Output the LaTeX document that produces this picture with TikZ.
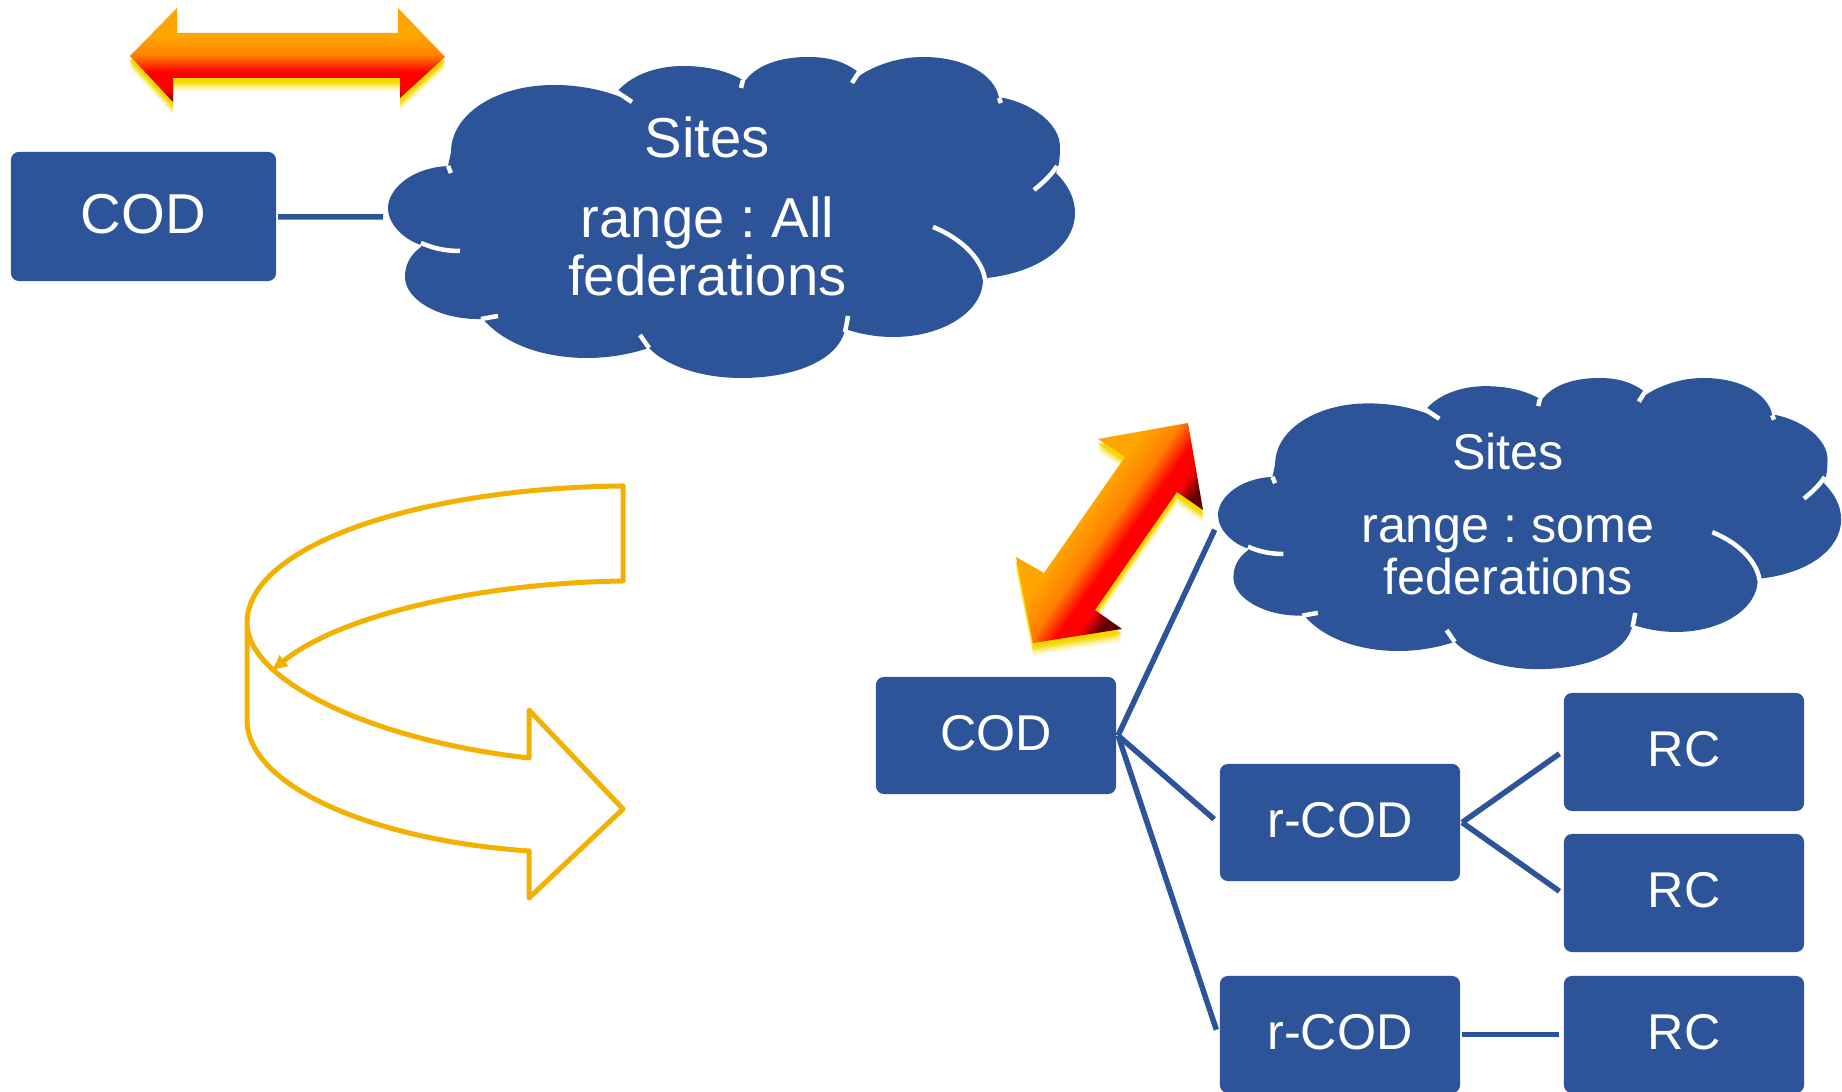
\documentclass[tikz,border=0pt]{standalone}
\usepackage{fontspec}
\setmainfont{Liberation Sans}
\usetikzlibrary{arrows.meta}
\definecolor{codblue}{HTML}{2D5398}
\definecolor{curvegold}{HTML}{F2B000}
\definecolor{glowyellow}{HTML}{F4D800}
\definecolor{flamedark}{HTML}{600000}
\definecolor{flamered}{HTML}{FF0000}
\definecolor{flamemid}{HTML}{FF8000}
\definecolor{flametop}{HTML}{FFA500}
\pgfdeclareverticalshading{flameflat}{100bp}{color(0bp)=(flamedark); color(25bp)=(flamedark); color(31bp)=(flamered); color(41bp)=(flamered); color(50bp)=(flamemid); color(60bp)=(flametop); color(100bp)=(flametop)}
\pgfdeclareverticalshading{flametilt}{100bp}{color(0bp)=(flamedark); color(38bp)=(flamedark); color(42bp)=(flamered); color(46bp)=(flamered); color(51bp)=(flamemid); color(58bp)=(flametop); color(100bp)=(flametop)}
\tikzset{
  codbox/.style={rectangle, fill=codblue, text=white, rounded corners=0.08cm, inner sep=0pt, outer sep=0.02cm, text depth=0.06cm, font=\fontsize{14.3}{16}\selectfont},
  cloudtext/.style={anchor=base, text=white, inner sep=0pt},
  linkline/.style={draw=codblue, line width=0.055cm, shorten >=0.03cm},
  cloudfill/.style={fill=codblue},
  cloudtick/.style={draw=white, line width=0.045cm},
  curveline/.style={draw=curvegold, line width=0.05cm, line join=round, line cap=round},
}
\newcommand{\flameflatpath}{(130,56) -- (177,8) -- (177,33) -- (398,33) -- (398,8) -- (445,57) -- (400,98) -- (400,78) -- (173,78) -- (173,102) -- cycle}
\newcommand{\flametiltpath}{(1188,423) -- (1098,439) -- (1125,457) -- (1044,573) -- (1016,557) -- (1033,643) -- (1122,629) -- (1095,610) -- (1177,492) -- (1203,510) -- cycle}
\newcommand{\sitescloud}{
\fill[cloudfill] (448,166) .. controls (410,168) and (388,190) .. (388,208) .. controls (388,225) and (405,240) .. (421,245)
  -- (421,247) .. controls (410,255) and (405,265) .. (405,277) .. controls (405,300) and (440,320) .. (481,319)
  -- (483,319) .. controls (505,345) and (545,358) .. (587,358) .. controls (610,358) and (630,354) .. (649,348)
  .. controls (665,365) and (700,378) .. (741,378) .. controls (795,378) and (838,360) .. (845,330)
  -- (848,330) .. controls (865,335) and (878,337) .. (893,337) .. controls (945,337) and (983,310) .. (983,280)
  -- (987,278) .. controls (1040,272) and (1075,245) .. (1075,213) .. controls (1075,198) and (1068,185) .. (1056,173)
  .. controls (1059,166) and (1060,158) .. (1060,147) .. controls (1060,125) and (1035,105) .. (1004,98)
  -- (999,98) .. controls (995,75) and (965,57) .. (923,57) .. controls (895,57) and (868,68) .. (854,80)
  -- (858,72) .. controls (845,62) and (830,57) .. (808,57) .. controls (775,57) and (750,68) .. (741,88)
  -- (743,80) .. controls (725,70) and (705,66) .. (683,66) .. controls (655,66) and (630,76) .. (617,92)
  -- (628,100) .. controls (605,90) and (580,85) .. (554,85) .. controls (495,85) and (451,115) .. (451,152) -- cycle;
\draw[cloudtick] (448,166) -- (451,173);
\draw[cloudtick] (421,243) .. controls (435,249) and (447,251) .. (460,251);
\draw[cloudtick] (481,319) -- (498,316);
\draw[cloudtick] (640,335) -- (649,348);
\draw[cloudtick] (848,316) .. controls (847,322) and (846,327) .. (845,332);
\draw[cloudtick] (933,227) .. controls (965,240) and (983,262) .. (985,280);
\draw[cloudtick] (1034,190) .. controls (1044,182) and (1052,174) .. (1057,166);
\draw[cloudtick] (999,98) -- (1001,103);
\draw[cloudtick] (852,83) -- (859,72);
\draw[cloudtick] (741,88) -- (743,80);
\draw[cloudtick] (617,92) -- (632,102);
}
\begin{document}
\frenchspacing
\begin{tikzpicture}[x=0.01cm, y=-0.01cm]
\useasboundingbox (0,0) rectangle (1842,1092);
% orange double arrows
\foreach \glowshift/\glowop in {13/0.12, 11/0.2, 9/0.3, 7/0.5, 5/0.9}{
  \fill[glowyellow, opacity=\glowop, shift={(0,\glowshift)}] \flameflatpath;
  \fill[glowyellow, opacity=\glowop, shift={(0,\glowshift)}] \flametiltpath;
}
\shade[shading=flameflat] \flameflatpath;
\shade[shading=flametilt, shading angle=55] \flametiltpath;
% clouds
\sitescloud
\begin{scope}[shift={(1218,378)}, scale=0.907, shift={(-388,-57)}]
\sitescloud
\end{scope}
\coordinate (cloudtop) at (386,217);
\coordinate (cloudright) at (1216,527);
\node[cloudtext, font=\fontsize{16}{18}\selectfont] (sitestop) at (707.5,158){Sites};
\node[cloudtext, font=\fontsize{16}{18}\selectfont] (rangetop) at (707.5,238){range : All};
\node[cloudtext, font=\fontsize{16}{18}\selectfont] (fedtop) at (707.5,296){federations};
\node[cloudtext, font=\fontsize{14.3}{16}\selectfont] (sitesright) at (1508,470){Sites};
\node[cloudtext, font=\fontsize{14.3}{16}\selectfont] (rangeright) at (1508,543){range : some};
\node[cloudtext, font=\fontsize{14.3}{16}\selectfont] (fedright) at (1508,595){federations};
% boxes
\node[codbox, minimum width=2.65cm, minimum height=1.29cm, font=\fontsize{16}{18}\selectfont] (codtop) at (143.5,216.5){COD};
\node[codbox, minimum width=2.4cm, minimum height=1.17cm] (codright) at (996,735.5){COD};
\node[codbox, minimum width=2.4cm, minimum height=1.17cm] (rcoda) at (1340,822.5){r-COD};
\node[codbox, minimum width=2.4cm, minimum height=1.17cm] (rcodb) at (1340,1034.5){r-COD};
\node[codbox, minimum width=2.4cm, minimum height=1.18cm] (rca) at (1684,752){RC};
\node[codbox, minimum width=2.4cm, minimum height=1.18cm] (rcb) at (1684,893){RC};
\node[codbox, minimum width=2.4cm, minimum height=1.17cm] (rcc) at (1684,1034.5){RC};
% links
\draw[linkline](codtop) -- (cloudtop);
\draw[linkline](codright.east) -- (cloudright);
\draw[linkline, shorten >=0.05cm](codright.east) -- (rcoda.west);
\draw[linkline, shorten >=0.05cm](codright.east) -- (rcodb.west);
\draw[linkline](rcoda.east) -- (rca.west);
\draw[linkline](rcoda.east) -- (rcb.west);
\draw[linkline](rcodb.east) -- (rcc.west);
% curved arrow
\draw[curveline] (623,486) .. controls (420,488) and (247,545) .. (247,623) .. controls (247,680) and (370,740) .. (529,758) -- (529,710) -- (623,809) -- (529,898) -- (529,851) .. controls (370,840) and (247,785) .. (247,720) -- (247,623);
\draw[curveline, -{Latex[length=0.18cm, width=0.15cm]}] (623,486) -- (623,581) .. controls (480,583) and (340,615) .. (270,672);
\end{tikzpicture}
\end{document}
